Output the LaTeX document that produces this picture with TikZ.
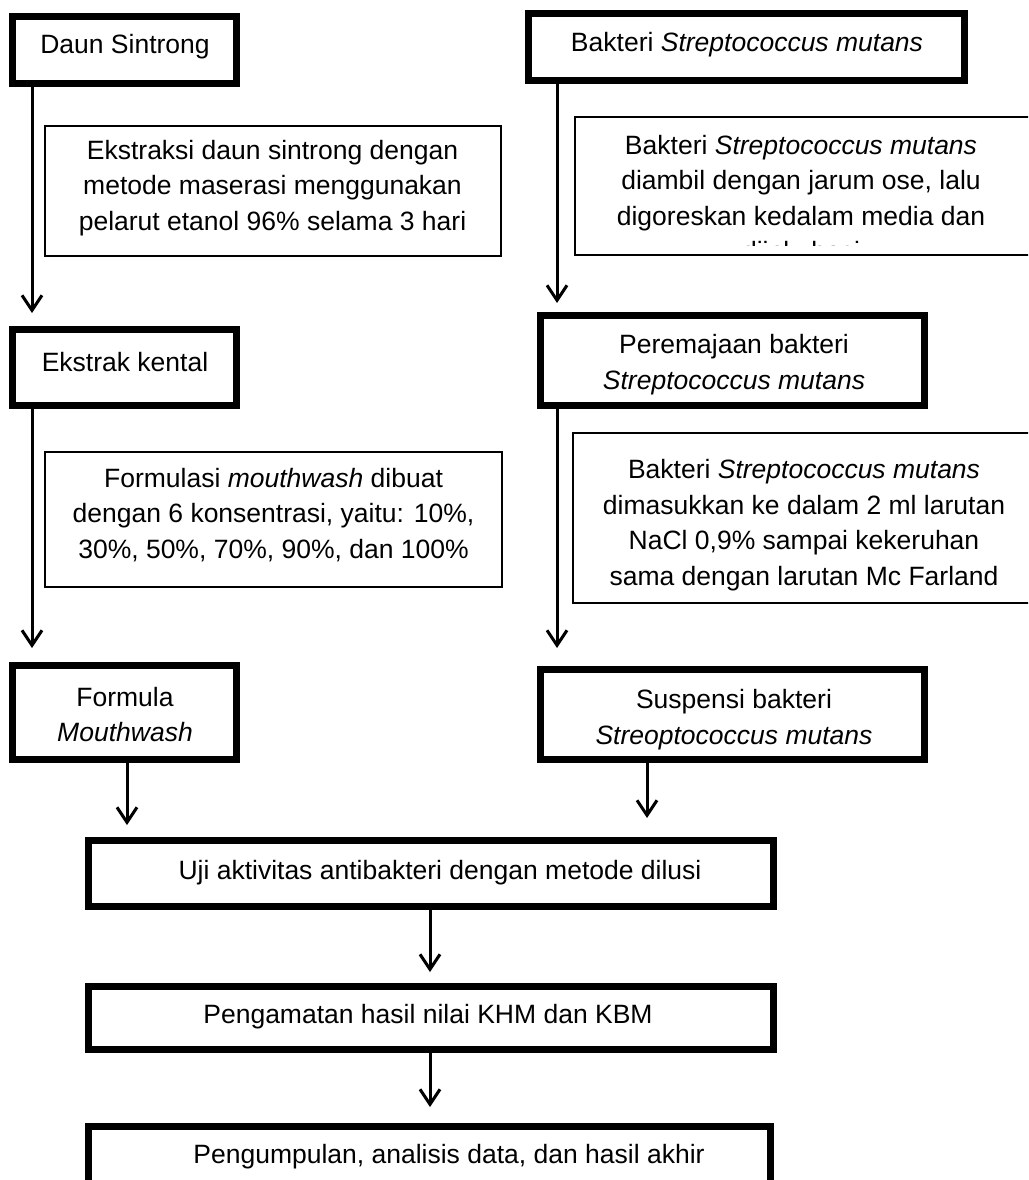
\documentclass[tikz,border=0pt]{standalone}
\usepackage{fontspec}
\setmainfont{Liberation Sans}
\usetikzlibrary{arrows.meta,calc}
\begin{document}
\begin{tikzpicture}[x=1pt,y=-1pt,
  thickbox/.style={draw, line width=7pt, inner sep=0pt, rectangle},
  thinbox/.style={draw, line width=2pt, inner sep=0pt, rectangle},
  txt/.style={font=\fontsize{26.5}{35.5}\selectfont, align=center, inner sep=0pt},
  arr/.style={line width=3pt, -{Straight Barb[length=15pt,width=20pt]}}]
\useasboundingbox (0,0) rectangle (1028,1180);
\clip (0,0) rectangle (1028,1180);
\fill[white] (0,0) rectangle (1028,1180);

% column x positions for connectors
\coordinate (xL) at (32,0);
\coordinate (xLb) at (127,0);
\coordinate (xR) at (557,0);
\coordinate (xRb) at (647,0);
\coordinate (xC) at (430,0);

% thick boxes
\node[thickbox, minimum width=224pt, minimum height=67pt] (daun) at (124.5,50) {};
\node[thickbox, minimum width=224pt, minimum height=76pt] (kental) at (124.5,367.5) {};
\node[thickbox, minimum width=224pt, minimum height=94pt] (formula) at (124.5,712.5) {};
\node[thickbox, minimum width=436pt, minimum height=67pt] (bakteri) at (746.5,47) {};
\node[thickbox, minimum width=384pt, minimum height=90pt] (remaja) at (732.5,360.5) {};
\node[thickbox, minimum width=384pt, minimum height=90pt] (suspensi) at (732.5,714.5) {};
\node[thickbox, minimum width=685pt, minimum height=66pt] (uji) at (431,873.5) {};
\node[thickbox, minimum width=685pt, minimum height=63pt] (amat) at (431,1018) {};
\node[thickbox, minimum width=682pt, minimum height=73pt] (kumpul) at (429.5,1163) {};

% thin boxes
\node[thinbox, minimum width=456pt, minimum height=130pt] (ekstraksi) at (273,191) {};
\node[thinbox, minimum width=457pt, minimum height=135pt] (formulasi) at (273.5,519.5) {};
\node[thinbox, minimum width=460pt, minimum height=138pt] (ambil) at (805,186) {};
\node[thinbox, minimum width=462pt, minimum height=170pt] (masuk) at (804,518) {};

% texts
\node[txt] (tdaun) at (125,47) {Daun Sintrong};
\node[txt] (tekstraksi) at (272.5,188) {Ekstraksi daun sintrong dengan\\metode maserasi menggunakan\\pelarut etanol 96\% selama 3 hari};
\node[txt] (tkental) at (125,362) {Ekstrak kental};
\node[txt] (tformulasi) at (273.5,515) {Formulasi \textit{mouthwash} dibuat\\dengan 6 konsentrasi, yaitu: 10\%,\\30\%, 50\%, 70\%, 90\%, dan 100\%};
\node[txt] (tformula) at (125,714.5) {Formula\\\textit{Mouthwash}};
\node[txt] (tbakteri) at (747,45) {Bakteri \textit{Streptococcus mutans}};
\begin{scope}
  \clip (576,118) rectangle (1035,245);
  \node[txt] (tambil) at (801,198) {Bakteri \textit{Streptococcus mutans}\\diambil dengan jarum ose, lalu\\digoreskan kedalam media dan\\diinkubasi};
\end{scope}
\node[txt] (tremaja) at (734,364.5) {Peremajaan bakteri\\\textit{Streptococcus mutans}};
\node[txt] (tmasuk) at (804,525) {Bakteri \textit{Streptococcus mutans}\\dimasukkan ke dalam 2 ml larutan\\NaCl 0,9\% sampai kekeruhan\\sama dengan larutan Mc Farland};
\node[txt] (tsuspensi) at (734,719.5) {Suspensi bakteri\\\textit{Streoptococcus mutans}};
\node[txt] (tuji) at (440,873) {Uji aktivitas antibakteri dengan metode dilusi};
\node[txt] (tamat) at (428,1017) {Pengamatan hasil nilai KHM dan KBM};
\node[txt] (tkumpul) at (449,1157) {Pengumpulan, analisis data, dan hasil akhir};

% connectors
\draw[arr, shorten >=13pt] (daun.south -| xL) -- (kental.north -| xL);
\draw[arr, shorten >=14pt] (kental.south -| xL) -- (formula.north -| xL);
\draw[arr, shorten >=12pt] (formula.south -| xLb) -- (uji.north -| xLb);
\draw[arr, shorten >=9pt] (bakteri.south -| xR) -- (remaja.north -| xR);
\draw[arr, shorten >=18pt] (remaja.south -| xR) -- (suspensi.north -| xR);
\draw[arr, shorten >=19pt] (suspensi.south -| xRb) -- (uji.north -| xRb);
\draw[arr, shorten >=11pt] (uji.south -| xC) -- (amat.north -| xC);
\draw[arr, shorten >=16pt] (amat.south -| xC) -- (kumpul.north -| xC);
\end{tikzpicture}
\end{document}
